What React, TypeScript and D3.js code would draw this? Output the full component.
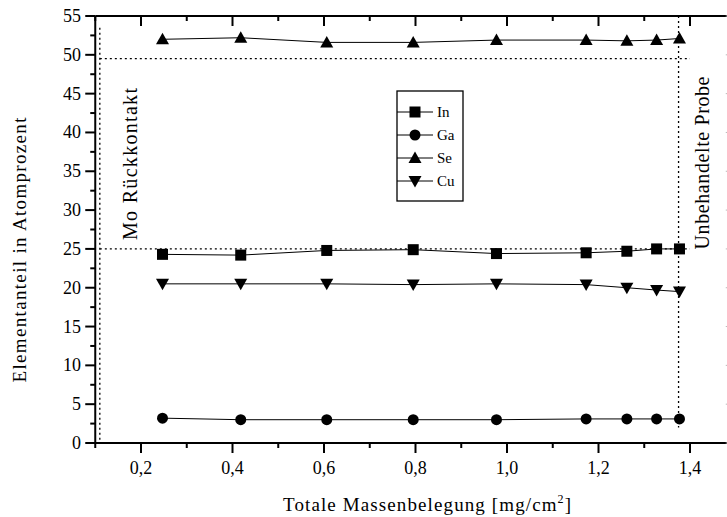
import React from "react";
import * as d3 from "d3";

const massX = [0.247, 0.418, 0.606, 0.795, 0.977, 1.173, 1.262, 1.327, 1.377];
const inVals = [24.3, 24.2, 24.8, 24.9, 24.4, 24.5, 24.7, 25.0, 25.0];
const gaVals = [3.2, 3.0, 3.0, 3.0, 3.0, 3.1, 3.1, 3.1, 3.1];
const seVals = [52.0, 52.2, 51.6, 51.6, 51.9, 51.9, 51.8, 51.9, 52.1];
const cuVals = [20.5, 20.5, 20.5, 20.4, 20.5, 20.4, 20.0, 19.7, 19.5];
const seriesNames = ["In", "Ga", "Se", "Cu"];
const xTickLabels = ["0,2", "0,4", "0,6", "0,8", "1,0", "1,2", "1,4"];
const xTickValues = [0.2, 0.4, 0.6, 0.8, 1.0, 1.2, 1.4];
const yTickValues = [0, 5, 10, 15, 20, 25, 30, 35, 40, 45, 50, 55];
const refLineY = [49.5, 25];
const refLineX = [0.11, 1.375];

const W = 727;
const H = 517;
const FONT = "'Liberation Serif', 'Times New Roman', serif";

function Marker({ type, x, y }: { type: string; x: number; y: number }) {
  if (type === "In") return <rect x={x - 5.5} y={y - 5.5} width={11} height={11} fill="#000" />;
  if (type === "Ga") return <circle cx={x} cy={y} r={5.5} fill="#000" />;
  if (type === "Se")
    return <path d={`M${x},${y - 6.5} L${x + 6.5},${y + 5} L${x - 6.5},${y + 5} Z`} fill="#000" />;
  return <path d={`M${x},${y + 6.5} L${x + 6.5},${y - 5} L${x - 6.5},${y - 5} Z`} fill="#000" />;
}

export default function App() {
  const x = d3.scaleLinear().domain([0.1, 1.5]).range([95.25, 735.75]);
  const y = d3.scaleLinear().domain([0, 55]).range([443, 16]);
  const xl = x.range();
  const yl = y.range();
  const all = [inVals, gaVals, seVals, cuVals];
  const line = d3
    .line<number>()
    .x((_, i) => x(massX[i]))
    .y((d) => y(d));

  const xMinor = d3.range(0.1, 1.5001, 0.1).map((v) => +v.toFixed(2));
  const yMinor = d3.range(0, 55.001, 2.5);

  const legX = 397, legY = 91, legW = 66, legH = 110;

  return (
    <svg width={W} height={H} style={{ position: "absolute", left: 0, top: 0, background: "#fff" }} fontFamily={FONT}>
      <rect x={0} y={0} width={W} height={H} fill="#fff" />
      {/* reference dotted lines */}
      <line x1={x(refLineX[0])} x2={x(refLineX[0])} y1={y(53.5)} y2={y(0)} stroke="#000" strokeWidth={1.3} strokeDasharray="2,3" />
      <line x1={x(refLineX[1])} x2={x(refLineX[1])} y1={y(55)} y2={y(2)} stroke="#000" strokeWidth={1.3} strokeDasharray="2,3" />
      {refLineY.map((v) => (
        <line key={v} x1={x(refLineX[0])} x2={x(1.4)} y1={y(v)} y2={y(v)} stroke="#000" strokeWidth={1.3} strokeDasharray="2,3" />
      ))}

      {/* axes */}
      <line x1={xl[0]} x2={xl[1]} y1={yl[0]} y2={yl[0]} stroke="#000" strokeWidth={2} />
      <line x1={xl[0]} x2={xl[1]} y1={yl[1]} y2={yl[1]} stroke="#000" strokeWidth={2} />
      <line x1={xl[0]} x2={xl[0]} y1={yl[0]} y2={yl[1]} stroke="#000" strokeWidth={2} />
      <line x1={xl[1]} x2={xl[1]} y1={yl[0]} y2={yl[1]} stroke="#000" strokeWidth={2} />
      {xMinor.map((v) => {
        const major = Math.abs(Math.round(v * 5) - v * 5) < 1e-6;
        const len = major ? 10 : 5;
        return (
          <g key={"xt" + v}>
            <line x1={x(v)} x2={x(v)} y1={yl[0]} y2={yl[0] + len} stroke="#000" strokeWidth={2} />
            <line x1={x(v)} x2={x(v)} y1={yl[1]} y2={yl[1] + len} stroke="#000" strokeWidth={2} />
          </g>
        );
      })}
      {yMinor.map((v) => {
        const major = v % 5 === 0;
        const len = major ? 10 : 5;
        return (
          <g key={"yt" + v}>
            <line x1={xl[0]} x2={xl[0] - len} y1={y(v)} y2={y(v)} stroke="#000" strokeWidth={2} />
            <line x1={xl[1]} x2={xl[1] - len} y1={y(v)} y2={y(v)} stroke="#bbb" strokeWidth={1} />
          </g>
        );
      })}
      {xTickValues.map((v, i) => (
        <text key={"xl" + v} x={x(v)} y={474} fontSize={18} textAnchor="middle" fill="#000">
          {xTickLabels[i]}
        </text>
      ))}
      {yTickValues.map((v) => (
        <text key={"yl" + v} x={81} y={y(v) + 6} fontSize={18} textAnchor="end" fill="#000">
          {v}
        </text>
      ))}

      {/* series */}
      {all.map((vals, si) => (
        <g key={seriesNames[si]}>
          <path d={line(vals) || ""} fill="none" stroke="#000" strokeWidth={1} />
          {vals.map((v, i) => (
            <Marker key={i} type={seriesNames[si]} x={x(massX[i])} y={y(v)} />
          ))}
        </g>
      ))}

      {/* legend */}
      <rect x={legX} y={legY} width={legW} height={legH} fill="#fff" stroke="#000" strokeWidth={1.3} />
      {seriesNames.map((n, i) => {
        const cy = legY + 21 + i * 23;
        return (
          <g key={"lg" + n}>
            <line x1={legX} x2={legX + 36} y1={cy} y2={cy} stroke="#000" strokeWidth={1} />
            <Marker type={n} x={legX + 18} y={cy} />
            <text x={legX + 40} y={cy + 5} fontSize={15} fill="#000">
              {n}
            </text>
          </g>
        );
      })}

      {/* annotations */}
      <text transform={`translate(137,164) rotate(-90)`} fontSize={20} textAnchor="middle" fill="#000" textLength={152} lengthAdjust="spacing">
        Mo Rückkontakt
      </text>
      <text transform={`translate(709,163) rotate(-90)`} fontSize={20} textAnchor="middle" fill="#000" textLength={173} lengthAdjust="spacing">
        Unbehandelte Probe
      </text>
      <text transform={`translate(26,250) rotate(-90)`} fontSize={19} textAnchor="middle" fill="#000" textLength={265} lengthAdjust="spacing">
        Elementanteil in Atomprozent
      </text>
      <text x={283} y={511} fontSize={19} fill="#000" textLength={288} lengthAdjust="spacing">
        Totale Massenbelegung [mg/cm
        <tspan dy={-8} fontSize={12}>2</tspan>
        <tspan dy={8}>]</tspan>
      </text>
    </svg>
  );
}
